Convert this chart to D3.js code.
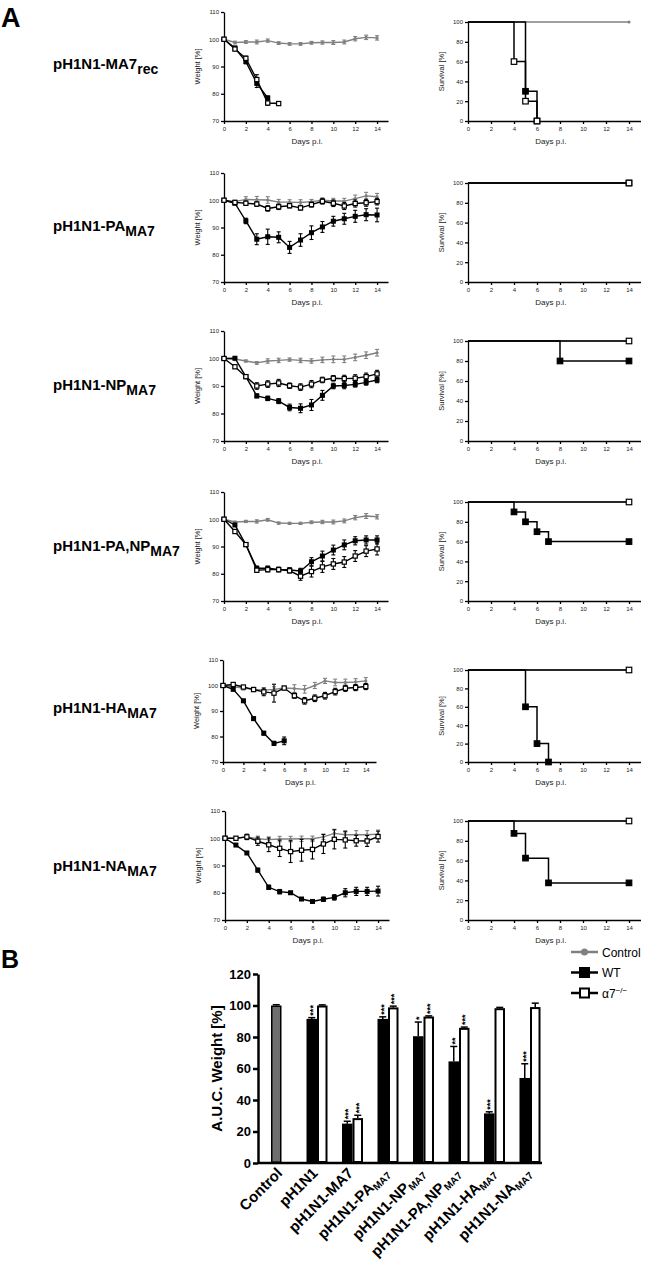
<!DOCTYPE html>
<html><head><meta charset="utf-8">
<script src="https://cdn.jsdelivr.net/npm/d3@7"></script>
<style>
body{margin:0;background:#fff;}
svg{display:block;font-family:"Liberation Sans",Arial,sans-serif;}
</style></head><body>
<svg id="fig" width="650" height="1263"></svg>
<script>
// ---- data ----
var days = [0,1,2,3,4,5,6,7,8,9,10,11,12,13,14];
var rowNames = ["pH1N1-MA7", "pH1N1-PA", "pH1N1-NP", "pH1N1-PA,NP", "pH1N1-HA", "pH1N1-NA"];
var rowSubs = ["rec", "MA7", "MA7", "MA7", "MA7", "MA7"];

// weight [%] per row, one value per day
var ctrlWeight = [
  [100,98.8,99,99,99.5,98.6,98.3,98.3,98.7,98.8,98.8,99,100.2,100.7,100.5],
  [100,99.5,100.3,100.2,100.1,99.3,99.3,99.2,99.5,100,99.7,99.7,100.6,101.6,101.3],
  [100,99.8,99.1,98.4,99.1,99.3,99.6,99.3,99.1,99.5,99.7,99.7,100.4,101.2,102.1],
  [100,99,99.2,99.2,99.8,98.6,98.5,98.5,98.9,99,99,99.4,100.6,101.2,100.9],
  [100,99.5,99,98.5,98.2,98.5,99,98.8,98.5,100,101.8,101.2,101.2,101.4,101.8],
  [100,100,100.5,99.8,99.5,99.7,99.7,99.8,99.8,100.5,101.8,101.3,101.3,101.3,101.5]
];
var ctrlErr = [
  [0,0.5,0.5,0.7,0.6,0.5,0.5,0.5,0.5,0.6,0.7,0.7,0.8,0.8,0.8],
  [0,0.5,1,1.2,1.2,1,0.9,1,0.8,0.9,1,1,1.3,1.3,1.2],
  [0,0.3,0.4,0.5,0.8,0.8,0.6,0.8,0.8,1,1.2,1.2,1.2,1.2,1.2],
  [0,0.3,0.4,0.6,0.5,0.4,0.4,0.4,0.5,0.6,0.7,0.7,0.8,0.9,0.8],
  [0,0.5,0.8,0.8,0.8,1,0.8,1.5,1.5,1.2,1,1.3,1.3,1.3,1.3],
  [0,0.5,0.8,1,1,1,1,1,1,1,1.5,1.5,1.5,1.5,1.5]
];
var wtWeight = [
  [100,96.8,91.8,83.8,78.5],
  [100,98.9,92.4,85.7,86.6,86.4,82.7,85.4,88.1,90.2,92.3,93.2,94.1,94.7,94.6],
  [100,100.1,93.4,86.4,85.5,84.5,82.2,81.9,83.1,86.6,90,90.2,90.6,91.3,92.2],
  [100,97.9,90.7,82,82,81.6,81.4,81,84.4,86.5,88.7,90.6,92.1,92.4,92.4],
  [100,98.5,94,87,81.3,77.3,78.3],
  [100,97.5,94.6,88.3,82,80.4,80,77.7,76.8,77.6,78.3,80,80.5,80.5,80.6]
];
var wtErr = [
  [0,0.6,0.8,1.5,0.6],
  [0,0.5,1,2,2.8,2,2.2,2.3,2.5,2,1.8,2,2.2,2.2,2.5],
  [0,0.3,0.5,0.7,0.8,0.9,1.2,1.6,2,1.8,1,1.2,1,1,1],
  [0,0.4,0.4,0.8,0.8,0.8,0.8,1,1.5,1.8,1.8,1.8,1.5,1.5,1.5],
  [0,0.4,0.4,0.6,0.7,0.8,1.5],
  [0,0.3,0.5,0.7,0.8,0.8,0.4,0.4,0.3,0.8,1,1.5,1.5,1.5,1.8]
];
var a7Weight = [
  [100,96.4,93,85.2,76.6,76.4],
  [100,99.2,98.9,98.6,97,97.6,98,97.2,98.4,99.6,98.9,97.9,98.8,99.1,99.5],
  [100,97,93.4,90,90.7,91.1,90.1,89.6,90.7,92.2,92.8,92.7,92.8,93.4,94.4],
  [100,95.5,90.7,81.3,81.5,81.5,81.1,79.1,80.8,82.5,83.6,84.3,86.5,88.3,89.1],
  [100,100.4,99.4,98.4,97.5,97,99,96,94,95,96,97.6,98.9,99.2,99.6],
  [100,100,100.5,98.9,97.6,96.3,95.1,95.6,95.9,97.9,99.6,99.4,99.1,99,100.6]
];
var a7Err = [
  [0,0.6,0.8,1.8,0.8,0.3],
  [0,0.5,0.8,0.8,1,1,0.8,0.8,0.9,1,1.2,1.3,1.3,1.3,1.2],
  [0,0.4,0.5,1.2,1.2,1.3,1,1.2,1.3,1,1,1.2,1.3,1.3,1.3],
  [0,0.4,0.4,0.8,0.8,0.8,0.8,1.5,2,2,2,2,2,2,2.2],
  [0,0.5,0.5,0.7,1.5,3.5,0.4,1,1.3,1.3,1.3,1.3,1.2,1.2,1.2],
  [0,0.5,1,1.5,2.5,3,4,4,3.5,3.5,3.5,3,2,2,2]
];

// survival [%] as [day, value] steps
var ctrlSurv = [[0,100],[14,100]];
var wtSurv = [
  [[0,100],[5,30],[6,0]],
  [[0,100],[14,100]],
  [[0,100],[8,80],[14,80]],
  [[0,100],[4,90],[5,80],[6,70],[7,60],[14,60]],
  [[0,100],[5,60],[6,20],[7,0]],
  [[0,100],[4,87.5],[5,62.5],[7,37.5],[14,37.5]]
];
var a7Surv = [
  [[0,100],[4,60],[5,20],[6,0]],
  [[0,100],[14,100]],
  [[0,100],[14,100]],
  [[0,100],[14,100]],
  [[0,100],[14,100]],
  [[0,100],[14,100]]
];

// panel B: AUC weight
var groups = ["Control","pH1N1","pH1N1-MA7","pH1N1-PA","pH1N1-NP","pH1N1-PA,NP","pH1N1-HA","pH1N1-NA"];
var groupSubs = ["","","","MA7","MA7","MA7","MA7","MA7"];
var ctrlAUC = [100, null, null, null, null, null, null, null];
var ctrlAUCErr = [0.5, 0, 0, 0, 0, 0, 0, 0];
var wtAUC = [null, 91.5, 25, 91.5, 80.5, 64.5, 31.5, 54];
var wtAUCErr = [0, 0.8, 1.5, 1.3, 9, 9.5, 1, 9];
var a7AUC = [null, 100, 28.5, 98.8, 93, 85.8, 98.3, 99];
var a7AUCErr = [0, 0.4, 1.8, 0.8, 0.4, 0.5, 0.5, 2.5];
var wtStars = ["","***","***","***","*","**","***","***"];
var a7Stars = ["","","***","***","***","***","",""];
var aucTicks = [0,20,40,60,80,100,120];

// ---- layout ----
var rowTop = [12,173,331,492,660,811];
var rowBottom = [121,282,441,601,762,920];
var weightX = [[224,388],[224,388],[224,388],[224,388],[223,376],[225,389]];
var survX = [468,640.5];
var labelY = [69,231,390,551,713,871];
var gray = "#808080";

var svg = d3.select("#fig");

function styleAxis(a, fs, sw) {
  a.select(".domain").attr("stroke-width", sw);
  a.selectAll(".tick line").attr("stroke-width", sw);
  a.selectAll(".tick text").attr("font-size", fs).attr("fill", "#222");
}

function marker(g, type, cx, cy, s) {
  if (type === "dot") {
    g.append("circle").attr("cx", cx).attr("cy", cy).attr("r", 1.6).attr("fill", gray);
  } else {
    g.append("rect").attr("x", cx - s/2).attr("y", cy - s/2).attr("width", s).attr("height", s)
      .attr("fill", type === "filled" ? "#000" : "#fff").attr("stroke", "#000").attr("stroke-width", 1.2);
  }
}

svg.append("text").attr("x", 1).attr("y", 27).attr("font-size", 27).attr("font-weight", "bold").text("A");
svg.append("text").attr("x", 1).attr("y", 968).attr("font-size", 25).attr("font-weight", "bold").text("B");

rowNames.forEach(function(name, i) {
  // row label
  var t = svg.append("text").attr("x", 53).attr("y", labelY[i]).attr("font-weight", "bold").attr("font-size", 15);
  t.append("tspan").text(name);
  t.append("tspan").attr("font-size", 14).attr("dy", 5).text(rowSubs[i]);

  // weight chart
  var x = d3.scaleLinear().domain([0,15]).range(weightX[i]);
  var y = d3.scaleLinear().domain([70,110]).range([rowBottom[i], rowTop[i]]);
  var g = svg.append("g");
  var ax = g.append("g").attr("transform", "translate(0," + rowBottom[i] + ")")
    .call(d3.axisBottom(x).tickValues([0,2,4,6,8,10,12,14]).tickSize(3).tickSizeOuter(0).tickPadding(3));
  styleAxis(ax, 6, 1.3);
  var ay = g.append("g").attr("transform", "translate(" + weightX[i][0] + ",0)")
    .call(d3.axisLeft(y).tickValues([70,80,90,100,110]).tickSize(3).tickSizeOuter(0).tickPadding(2));
  styleAxis(ay, 6, 1.3);
  g.append("text").attr("x", x(7.6)).attr("y", rowBottom[i] + 23).attr("text-anchor", "middle")
    .attr("font-size", 8).attr("fill", "#222").text("Days p.i.");
  g.append("text").attr("transform", "translate(" + (weightX[i][0] - 24) + "," + ((rowTop[i] + rowBottom[i]) / 2) + ") rotate(-90)")
    .attr("text-anchor", "middle").attr("font-size", 7.5).attr("fill", "#222").text("Weight [%]");

  var series = [
    {m: ctrlWeight[i], e: ctrlErr[i], c: gray, mk: "dot"},
    {m: wtWeight[i], e: wtErr[i], c: "#000", mk: "filled"},
    {m: a7Weight[i], e: a7Err[i], c: "#000", mk: "open"}
  ];
  series.forEach(function(s) {
    var line = d3.line().x(function(d, j) { return x(days[j]); }).y(function(d) { return y(d); });
    g.append("path").attr("d", line(s.m)).attr("fill", "none").attr("stroke", s.c).attr("stroke-width", 1.4);
    s.m.forEach(function(v, j) {
      if (s.e[j] > 0) {
        var cx = x(days[j]);
        var y1 = y(v - s.e[j]), y2 = y(v + s.e[j]);
        g.append("line").attr("x1", cx).attr("x2", cx).attr("y1", y1).attr("y2", y2).attr("stroke", s.c).attr("stroke-width", 1.1);
        [y1, y2].forEach(function(yy) {
          g.append("line").attr("x1", cx - 2).attr("x2", cx + 2).attr("y1", yy).attr("y2", yy).attr("stroke", s.c).attr("stroke-width", 1.1);
        });
      }
      marker(g, s.mk, x(days[j]), y(v), s.mk === "filled" ? 3.8 : 4.2);
    });
  });

  // survival chart
  var xs = d3.scaleLinear().domain([0,15]).range(survX);
  var ys = d3.scaleLinear().domain([0,100]).range([rowBottom[i], rowTop[i] + 10]);
  var gs = svg.append("g");
  var sx = gs.append("g").attr("transform", "translate(0," + rowBottom[i] + ")")
    .call(d3.axisBottom(xs).tickValues([0,2,4,6,8,10,12,14]).tickSize(3).tickSizeOuter(0).tickPadding(3));
  styleAxis(sx, 6, 1.3);
  var sy = gs.append("g").attr("transform", "translate(" + survX[0] + ",0)")
    .call(d3.axisLeft(ys).tickValues([0,20,40,60,80,100]).tickSize(3).tickSizeOuter(0).tickPadding(2));
  styleAxis(sy, 6, 1.3);
  gs.append("text").attr("x", xs(7.2)).attr("y", rowBottom[i] + 23).attr("text-anchor", "middle")
    .attr("font-size", 8).attr("fill", "#222").text("Days p.i.");
  gs.append("text").attr("transform", "translate(" + (survX[0] - 24) + "," + ((rowTop[i] + 10 + rowBottom[i]) / 2) + ") rotate(-90)")
    .attr("text-anchor", "middle").attr("font-size", 7.5).attr("fill", "#222").text("Survival [%]");

  [{p: ctrlSurv, c: gray, mk: "dot"}, {p: wtSurv[i], c: "#000", mk: "filled"}, {p: a7Surv[i], c: "#000", mk: "open"}]
  .forEach(function(s) {
    var pts = [];
    s.p.forEach(function(d, j) {
      if (j > 0) pts.push([d[0], s.p[j-1][1]]);
      pts.push(d);
    });
    var line = d3.line().x(function(d) { return xs(d[0]); }).y(function(d) { return ys(d[1]); });
    gs.append("path").attr("d", line(pts)).attr("fill", "none").attr("stroke", s.c).attr("stroke-width", 1.5);
    s.p.forEach(function(d, j) {
      if (j > 0) marker(gs, s.mk, xs(d[0]), ys(d[1]), 5.5);
    });
  });
});

// ---- panel B ----
var xB = d3.scaleBand().domain(groups).range([258.5, 542.5]).padding(0);
var yB = d3.scaleLinear().domain([0,120]).range([1163, 974]);
var bw = 10.5;
var gB = svg.append("g");

function bar(cx, v, err, fill, sw, stars) {
  if (v == null) return;
  gB.append("rect").attr("x", cx + sw/2).attr("y", yB(v) + sw/2).attr("width", bw - sw).attr("height", yB(0) - yB(v) - sw)
    .attr("fill", fill).attr("stroke", "#000").attr("stroke-width", sw);
  var mid = cx + bw/2, top = yB(v + err);
  gB.append("line").attr("x1", mid).attr("x2", mid).attr("y1", yB(v)).attr("y2", top).attr("stroke", "#000").attr("stroke-width", 1.5);
  gB.append("line").attr("x1", mid - 3.5).attr("x2", mid + 3.5).attr("y1", top).attr("y2", top).attr("stroke", "#000").attr("stroke-width", 1.5);
  if (stars) {
    gB.append("text").attr("transform", "translate(" + mid + "," + (top - 2) + ") rotate(-90)")
      .attr("dy", "0.45em").attr("font-size", 9).attr("font-weight", "bold").text(stars);
  }
}

groups.forEach(function(gname, k) {
  var c = xB(gname) + xB.bandwidth() / 2;
  bar(c - bw/2, ctrlAUC[k], ctrlAUCErr[k], "#6e6e6e", 1.5, "");
  bar(c - bw/2, wtAUC[k], wtAUCErr[k], "#000", 1.5, wtStars[k]);
  bar(c + bw/2, a7AUC[k], a7AUCErr[k], "#fff", 2, a7Stars[k]);
  var t = gB.append("text").attr("transform", "translate(" + (c + 7) + ",1174) rotate(-45)")
    .attr("text-anchor", "end").attr("font-size", 15).attr("font-weight", "bold");
  t.append("tspan").text(gname);
  if (groupSubs[k]) t.append("tspan").attr("font-size", 10).attr("dy", 3).text(groupSubs[k]);
});

var bx = gB.append("g").attr("transform", "translate(0," + yB(0) + ")")
  .call(d3.axisBottom(xB).tickSize(0).tickFormat(""));
bx.select(".domain").attr("stroke-width", 2.5).attr("d", "M258,0H542");
var by = gB.append("g").attr("transform", "translate(258,0)")
  .call(d3.axisLeft(yB).tickValues(aucTicks).tickSize(5).tickSizeOuter(0).tickPadding(2));
by.select(".domain").attr("stroke-width", 2.5);
by.selectAll(".tick line").attr("stroke-width", 2.5);
by.selectAll(".tick text").attr("font-size", 13).attr("font-weight", "bold").attr("fill", "#000");
gB.append("text").attr("transform", "translate(222," + yB(60) + ") rotate(-90)")
  .attr("text-anchor", "middle").attr("font-size", 15).attr("font-weight", "bold").text("A.U.C. Weight [%]");

// legend
var legend = [
  {name: "Control", c: gray, mk: "dot"},
  {name: "WT", c: "#000", mk: "filled"},
  {name: "α7", c: "#000", mk: "open"}
];
legend.forEach(function(l, k) {
  var ly = 952 + k * 20.5;
  svg.append("line").attr("x1", 571).attr("x2", 598).attr("y1", ly).attr("y2", ly).attr("stroke", l.c).attr("stroke-width", 2.5);
  if (l.mk === "dot") svg.append("circle").attr("cx", 584.5).attr("cy", ly).attr("r", 3.5).attr("fill", gray);
  else svg.append("rect").attr("x", 580).attr("y", ly - 4.5).attr("width", 9).attr("height", 9)
    .attr("fill", l.mk === "filled" ? "#000" : "#fff").attr("stroke", "#000").attr("stroke-width", 2);
  var t = svg.append("text").attr("x", 602).attr("y", ly + 4.5).attr("font-size", 12).text(l.name);
  if (k === 2) t.append("tspan").attr("font-size", 8).attr("dy", -5).text("−/−");
});
</script>
</body></html>
